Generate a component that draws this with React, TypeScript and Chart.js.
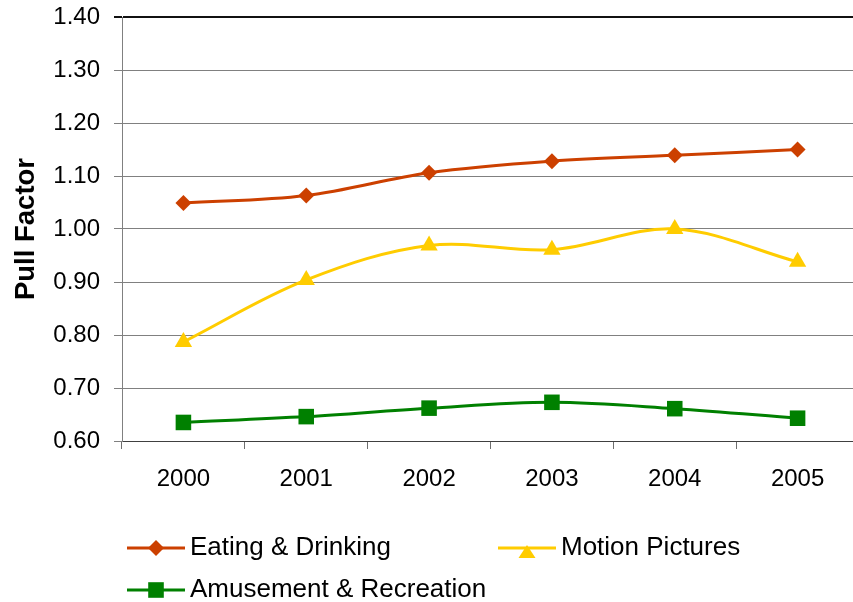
import React, { useEffect, useRef } from 'react';
import { Chart, registerables } from 'chart.js';

Chart.register(...registerables);

const years = ['2000', '2001', '2002', '2003', '2004', '2005'];
const eatingDrinking = [1.049, 1.063, 1.106, 1.128, 1.139, 1.15];
const motionPictures = [0.787, 0.904, 0.969, 0.961, 1.0, 0.938];
const amusementRecreation = [0.635, 0.646, 0.662, 0.673, 0.661, 0.643];
const seriesNames = ['Eating & Drinking', 'Motion Pictures', 'Amusement & Recreation'];
const seriesColors = ['#CC4000', '#FFCC00', '#008000'];
const yMin = 0.6;
const yMax = 1.4;
const yStep = 0.1;
const yTitle = 'Pull Factor';

const FONT = '"Liberation Sans", Arial, Helvetica, sans-serif';

function drawMarker(ctx: CanvasRenderingContext2D, style: string, x: number, y: number, color: string) {
  ctx.save();
  ctx.fillStyle = color;
  ctx.beginPath();
  if (style === 'rectRot') {
    const r = 8;
    ctx.moveTo(x - r, y);
    ctx.lineTo(x, y - r);
    ctx.lineTo(x + r, y);
    ctx.lineTo(x, y + r);
    ctx.closePath();
  } else if (style === 'triangle') {
    ctx.moveTo(x, y - 3);
    ctx.lineTo(x + 8.5, y + 10);
    ctx.lineTo(x - 8.5, y + 10);
    ctx.closePath();
  } else {
    const h = 7.8;
    ctx.rect(x - h, y - h, 2 * h, 2 * h);
  }
  ctx.fill();
  ctx.restore();
}

const legendPlugin = {
  id: 'customLegend',
  afterDraw(chart: any) {
    const ctx: CanvasRenderingContext2D = chart.ctx;
    const slots = [
      { x: 127, y: 548 },
      { x: 498, y: 548 },
      { x: 127, y: 590 },
    ];
    chart.data.datasets.forEach((ds: any, i: number) => {
      const { x, y } = slots[i];
      ctx.save();
      ctx.strokeStyle = ds.borderColor;
      ctx.lineWidth = 3;
      ctx.beginPath();
      ctx.moveTo(x, y);
      ctx.lineTo(x + 58, y);
      ctx.stroke();
      drawMarker(ctx, ds.pointStyle, x + 29, y, ds.borderColor);
      ctx.fillStyle = '#000';
      ctx.font = `26px ${FONT}`;
      ctx.textBaseline = 'middle';
      ctx.textAlign = 'left';
      ctx.fillText(ds.label, x + 63, y);
      ctx.restore();
    });
  },
};

export default function App() {
  const canvasRef = useRef<HTMLCanvasElement | null>(null);

  useEffect(() => {
    if (!canvasRef.current) return;
    const isTop = (c: any) => c.tick && Math.abs(c.tick.value - yMax) < 1e-6;
    const chart = new Chart(canvasRef.current, {
      type: 'line',
      data: {
        labels: years,
        datasets: [
          {
            label: seriesNames[0],
            data: eatingDrinking,
            borderColor: seriesColors[0],
            backgroundColor: seriesColors[0],
            borderWidth: 3,
            pointStyle: 'rectRot',
            pointRadius: 8,
            pointBorderWidth: 0,
            tension: 0.35,
          },
          {
            label: seriesNames[1],
            data: motionPictures,
            borderColor: seriesColors[1],
            backgroundColor: seriesColors[1],
            borderWidth: 3,
            pointStyle: 'triangle',
            pointRadius: 10,
            pointBorderWidth: 0,
            tension: 0.35,
          },
          {
            label: seriesNames[2],
            data: amusementRecreation,
            borderColor: seriesColors[2],
            backgroundColor: seriesColors[2],
            borderWidth: 3,
            pointStyle: 'rect',
            pointRadius: 11,
            pointBorderWidth: 0,
            tension: 0.35,
          },
        ],
      },
      options: {
        animation: false,
        responsive: false,
        devicePixelRatio: 1,
        layout: { padding: { top: 17, right: 0, bottom: 90, left: 0 } },
        plugins: {
          legend: { display: false },
          tooltip: { enabled: false },
        },
        scales: {
          x: {
            offset: true,
            grid: {
              offset: true,
              drawOnChartArea: false,
              drawTicks: true,
              tickLength: 8,
              color: '#6e6e6e',
            },
            border: { color: '#404040', width: 1 },
            ticks: {
              color: '#000',
              font: { family: FONT, size: 24 },
              padding: 16,
              maxRotation: 0,
            },
            afterFit: (scale: any) => {
              scale.height = 71;
              scale.paddingLeft = 0;
              scale.paddingRight = 0;
            },
          },
          y: {
            min: yMin,
            max: yMax,
            ticks: {
              stepSize: yStep,
              color: '#000',
              font: { family: FONT, size: 24 },
              padding: 14,
              callback: (v: any) => Number(v).toFixed(2),
            },
            grid: {
              drawTicks: true,
              tickLength: 8,
              color: (c: any) => (isTop(c) ? '#111' : '#808080'),
              lineWidth: (c: any) => (isTop(c) ? 2 : 1),
            },
            border: { color: '#808080', width: 1 },
            title: {
              display: true,
              text: yTitle,
              color: '#000',
              font: { family: FONT, size: 27.5, weight: 'bold' },
              padding: { top: 10, bottom: 0 },
            },
            afterFit: (scale: any) => {
              scale.width = 122;
              scale.paddingTop = 0;
              scale.paddingBottom = 0;
            },
          },
        },
      },
      plugins: [legendPlugin],
    });
    return () => chart.destroy();
  }, []);

  return (
    <div
      style={{
        position: 'absolute',
        left: 0,
        top: 0,
        width: 853,
        height: 602,
        overflow: 'hidden',
        background: '#fff',
      }}
    >
      <canvas
        ref={canvasRef}
        width={870}
        height={602}
        style={{ display: 'block', width: 870, height: 602 }}
      />
    </div>
  );
}
